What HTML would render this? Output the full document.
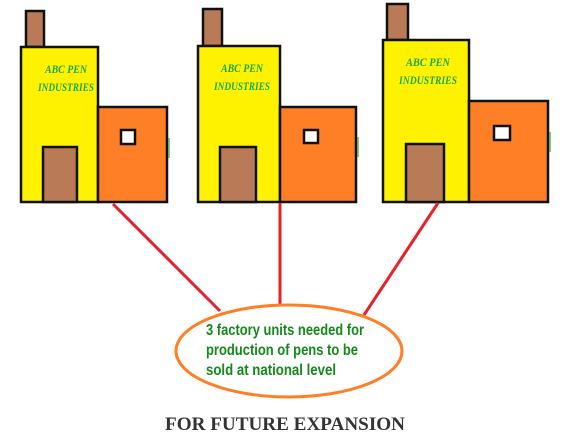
<!DOCTYPE html>
<html><head><meta charset="utf-8"><style>
body{margin:0;background:#fff;width:567px;height:439px;overflow:hidden}
svg{display:block}
.lbl{font-family:"Liberation Serif",serif;font-style:italic;font-weight:bold;fill:#1aaa4a;font-size:12px}
.cap{font-family:"Liberation Sans",sans-serif;font-weight:bold;fill:#158a1a;font-size:16px}
</style></head><body>
<svg width="567" height="439" viewBox="0 0 567 439">
<g stroke="#111" stroke-width="2.5">
 <g>
  <rect x="26" y="11" width="18" height="36" fill="#b97a57"/>
  <rect x="21" y="47" width="77" height="155" fill="#fff200"/>
  <rect x="98" y="107" width="69" height="95" fill="#ff7f27"/>
  <rect x="121" y="130" width="14" height="14" fill="#fff"/>
  <rect x="43" y="147" width="34" height="55" fill="#b97a57"/>
 </g>
 <g>
  <rect x="203" y="9" width="19" height="37" fill="#b97a57"/>
  <rect x="198" y="46" width="82" height="156" fill="#fff200"/>
  <rect x="280" y="107" width="76" height="95" fill="#ff7f27"/>
  <rect x="304" y="130" width="14" height="13" fill="#fff"/>
  <rect x="220" y="147" width="36" height="55" fill="#b97a57"/>
 </g>
 <g>
  <rect x="387" y="4" width="21" height="36" fill="#b97a57"/>
  <rect x="383" y="40" width="86" height="162" fill="#fff200"/>
  <rect x="469" y="101" width="79" height="101" fill="#ff7f27"/>
  <rect x="494" y="126" width="16" height="14" fill="#fff"/>
  <rect x="406" y="144" width="38" height="58" fill="#b97a57"/>
 </g>
</g>
<g stroke="#5cb85c" stroke-width="1.5">
 <line x1="169" y1="138" x2="169" y2="158"/><line x1="358" y1="137" x2="358" y2="157"/><line x1="550" y1="132" x2="550" y2="152"/>
</g>
<text class="lbl" x="66" y="73" text-anchor="middle" textLength="42" lengthAdjust="spacingAndGlyphs">ABC PEN</text>
<text class="lbl" x="66" y="91" text-anchor="middle" textLength="56" lengthAdjust="spacingAndGlyphs">INDUSTRIES</text>
<text class="lbl" x="242" y="72" text-anchor="middle" textLength="42" lengthAdjust="spacingAndGlyphs">ABC PEN</text>
<text class="lbl" x="242" y="90" text-anchor="middle" textLength="56" lengthAdjust="spacingAndGlyphs">INDUSTRIES</text>
<text class="lbl" x="428" y="66" text-anchor="middle" textLength="44" lengthAdjust="spacingAndGlyphs">ABC PEN</text>
<text class="lbl" x="428" y="84" text-anchor="middle" textLength="58" lengthAdjust="spacingAndGlyphs">INDUSTRIES</text>
<g stroke="#e8202a" stroke-width="3">
 <line x1="113" y1="204" x2="220" y2="311"/>
 <line x1="280" y1="203" x2="280" y2="307"/>
 <line x1="438" y1="203" x2="364" y2="315"/>
</g>
<ellipse cx="289" cy="351" rx="113" ry="46" fill="#fff" stroke="#ff7f27" stroke-width="3"/>
<text class="cap" x="206" y="335" textLength="158" lengthAdjust="spacingAndGlyphs">3 factory units needed for</text>
<text class="cap" x="206" y="355" textLength="152" lengthAdjust="spacingAndGlyphs">production of pens to be</text>
<text class="cap" x="206" y="375" textLength="130" lengthAdjust="spacingAndGlyphs">sold at national level</text>
<text x="165" y="430" font-family="Liberation Serif,serif" font-size="19" font-weight="bold" fill="#333" textLength="240" lengthAdjust="spacingAndGlyphs">FOR FUTURE EXPANSION</text>
</svg>
</body></html>
